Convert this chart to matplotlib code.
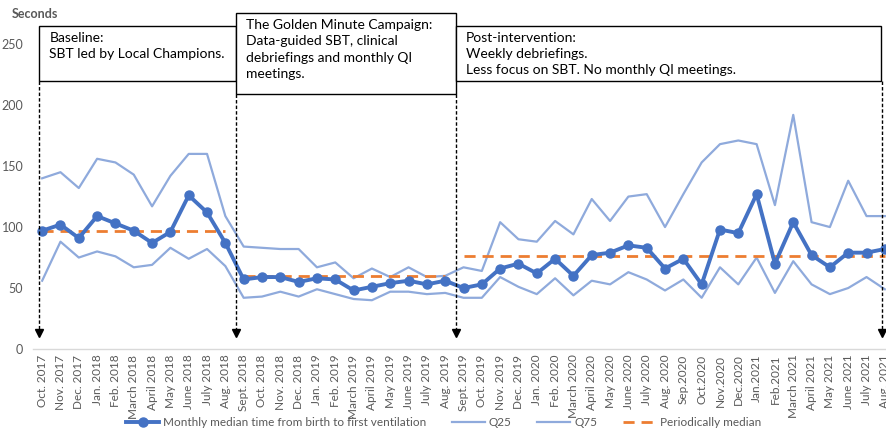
import numpy as np
import matplotlib.pyplot as plt
from matplotlib.patches import Rectangle
from matplotlib.lines import Line2D

plt.rcParams['font.family'] = ['Lato', 'DejaVu Sans']

months = ['Oct. 2017', 'Nov. 2017', 'Dec. 2017', 'Jan. 2018', 'Feb. 2018', 'March 2018',
          'April 2018', 'May 2018', 'June 2018', 'July 2018', 'Aug. 2018', 'Sept. 2018',
          'Oct. 2018', 'Nov. 2018', 'Dec. 2018', 'Jan. 2019', 'Feb. 2019', 'March 2019',
          'April 2019', 'May 2019', 'June 2019', 'July 2019', 'Aug. 2019', 'Sept. 2019',
          'Oct. 2019', 'Nov. 2019', 'Dec. 2019', 'Jan. 2020', 'Feb. 2020', 'March 2020',
          'April 2020', 'May 2020', 'June 2020', 'July 2020', 'Aug. 2020', 'Sep.2020',
          'Oct.2020', 'Nov.2020', 'Dec.2020', 'Jan.2021', 'Feb.2021', 'March 2021',
          'April 2021', 'May 2021', 'June 2021', 'July 2021', 'Aug. 2021']

median = [97, 102, 91, 109, 103, 97, 87, 96, 126, 112, 87, 57,
          59, 59, 55, 58, 57, 48, 51, 54, 56, 53, 56, 50,
          53, 66, 70, 62, 74, 60, 77, 79, 85, 83, 66, 74,
          53, 98, 95, 127, 70, 104, 77, 67, 79, 79, 82]

q25 = [56, 88, 75, 80, 76, 67, 69, 83, 74, 82, 68, 42,
       43, 47, 43, 49, 45, 41, 40, 47, 47, 45, 46, 42,
       42, 59, 51, 45, 58, 44, 56, 53, 63, 57, 48, 57,
       42, 67, 53, 75, 46, 72, 53, 45, 50, 59, 49]

q75 = [140, 145, 132, 156, 153, 143, 117, 142, 160, 160, 109, 84,
       83, 82, 82, 67, 71, 58, 66, 59, 67, 59, 60, 67,
       64, 104, 90, 88, 105, 94, 123, 105, 125, 127, 100, 127,
       153, 168, 171, 168, 118, 192, 104, 100, 138, 109, 109]

# periodic medians: baseline, campaign, post-intervention
phase_idx = [(0, 10), (11, 22), (23, 46)]
phase_median = [97, 60, 76]

# phase boxes: (x0, x1, y0, y1, text)
boxes = [(-0.15, 10.6, 220, 265, 'Baseline:\nSBT led by Local Champions.'),
         (10.6, 22.6, 209, 275.5, 'The Golden Minute Campaign:\nData-guided SBT, clinical\ndebriefings and monthly QI\nmeetings.'),
         (22.6, 45.8, 220, 265, 'Post-intervention:\nWeekly debriefings.\nLess focus on SBT. No monthly QI meetings.')]
arrows = [(-0.15, 220), (10.6, 209), (22.6, 209), (45.85, 220)]

x = np.arange(len(months))

fig = plt.figure(figsize=(8.87, 4.33), dpi=100)
ax = fig.add_axes([0.0372, 0.194, 0.9707, 0.704])

blue = '#4472C4'
light = '#8FAADC'
orange = '#ED7D31'

ax.plot(x, q25, color=light, lw=1.6, zorder=2)
ax.plot(x, q75, color=light, lw=1.6, zorder=2)
for (a, b), m in zip(phase_idx, phase_median):
    ax.plot(x[a:b + 1], [m] * (b - a + 1), color=orange, lw=2, ls=(0, (4, 2.5)), zorder=3)
ax.plot(x, median, color=blue, lw=2.8, marker='o', ms=6.5, zorder=4)

for ax_x, top in arrows:
    ax.plot([ax_x, ax_x], [top, 14], color='black', lw=1, ls=(0, (2.5, 1.5)), zorder=5, clip_on=False)
    ax.plot([ax_x], [13], marker='v', color='black', ms=6, zorder=5, clip_on=False)

for x0, x1, y0, y1, txt in boxes:
    ax.add_patch(Rectangle((x0, y0), x1 - x0, y1 - y0, facecolor='white', edgecolor='black',
                           lw=1, zorder=6, clip_on=False))
    ax.text(x0 + 0.55, y1 - 5, txt, ha='left', va='top', fontsize=10, linespacing=1.42,
            zorder=7, clip_on=False)

ax.set_xlim(-0.5, 46.5)
ax.set_ylim(0, 250)
ax.set_yticks([0, 50, 100, 150, 200, 250])
ax.set_xticks(x)
ax.set_xticklabels(months, rotation=90, fontsize=8.5, color='#595959')
ax.tick_params(axis='y', labelsize=9, colors='#595959', length=0, pad=7)
ax.tick_params(axis='x', length=0, pad=4)
for s in ['top', 'right', 'left']:
    ax.spines[s].set_visible(False)
ax.spines['bottom'].set_color('#D9D9D9')
ax.spines['bottom'].set_linewidth(1)

fig.text(0.013, 0.967, 'Seconds', fontsize=9, fontweight='bold', color='#595959', va='center')

handles = [Line2D([], [], color=blue, lw=2.8, marker='o', ms=6.5),
           Line2D([], [], color=light, lw=1.6),
           Line2D([], [], color=light, lw=1.6),
           Line2D([], [], color=orange, lw=2, ls=(0, (4, 2.5)))]
labels = ['Monthly median time from birth to first ventilation', 'Q25', 'Q75', 'Periodically median']
fig.legend(handles, labels, loc='center', bbox_to_anchor=(0.5, 0.025), ncol=4, frameon=False,
           fontsize=8.5, handlelength=2.8, columnspacing=2.2, handletextpad=0.3,
           labelcolor='#595959')

fig.savefig('out.png', dpi=100)
